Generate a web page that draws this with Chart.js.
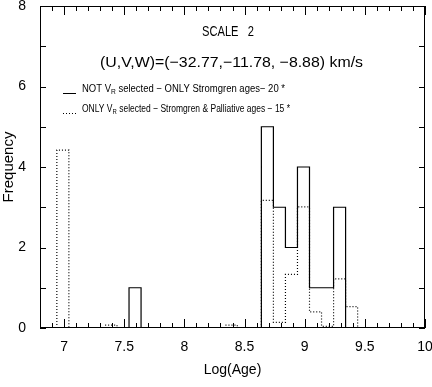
<!DOCTYPE html>
<html>
<head>
<meta charset="utf-8">
<script src="https://cdn.jsdelivr.net/npm/chart.js@4"></script>
<style>
  html, body { margin: 0; padding: 0; background: #fff; }
  #wrap { width: 432px; height: 387px; }
</style>
</head>
<body>
<div id="wrap"><canvas id="ageChart" width="432" height="387"></canvas></div>
<script>
// Histogram data (bin centres, width 0.1 in Log(Age))
const binWidth = 0.1;
const solidBins = [7.59, 8.69, 8.79, 8.89, 8.99, 9.09, 9.19, 9.29];
const solidCounts = [1, 5, 3, 2, 4, 1, 1, 3];
const dottedBins = [6.99, 7.39, 8.39, 8.69, 8.79, 8.89, 8.99, 9.09, 9.19, 9.29, 9.39];
const dottedCounts = [4.42, 0.07, 0.07, 3.17, 0.14, 1.33, 3.01, 0.40, 0.04, 1.22, 0.53];

const xTickLabels = [7, 7.5, 8, 8.5, 9, 9.5, 10];
const yTickLabels = [0, 2, 4, 6, 8];

const titleLine1 = 'SCALE   2';
const titleLine2 = '(U,V,W)=(\u221232.77,\u221211.78, \u22128.88) km/s';
const legendSolid = ['NOT V', 'R', ' selected \u2212 ONLY Stromgren ages\u2212 20 *'];
const legendDotted = ['ONLY V', 'R', ' selected \u2212 Stromgren & Palliative ages \u2212 15 *'];

const FONT = '"Liberation Sans", Arial, sans-serif';

/**
 * Turns bin centres and heights into outline points for a stepped line.
 */
function histogramOutline(centres, counts) {
    const pts = [];
    let prevRight = null;
    for (let i = 0; i < centres.length; i++) {
        const left = +(centres[i] - binWidth / 2).toFixed(3);
        const right = +(centres[i] + binWidth / 2).toFixed(3);
        if (prevRight !== null && Math.abs(left - prevRight) > 1e-6) {
            pts.push({ x: prevRight, y: 0 });
            pts.push({ x: (prevRight + left) / 2, y: null });
            prevRight = null;
        }
        if (prevRight === null) pts.push({ x: left, y: 0 });
        pts.push({ x: left, y: counts[i] });
        prevRight = right;
    }
    pts.push({ x: prevRight, y: 0 });
    return pts;
}

/**
 * Draws text squeezed/stretched horizontally to a given width (left edge x0).
 */
function fitText(ctx, text, x0, yMid, width) {
    const w = ctx.measureText(text).width;
    ctx.save();
    ctx.translate(x0, yMid);
    ctx.scale(width / w, 1);
    ctx.textAlign = 'left';
    ctx.fillText(text, 0, 0);
    ctx.restore();
}

function drawLegendRow(ctx, parts, x0, yMid, width) {
    const big = '10px ' + FONT, small = '7px ' + FONT;
    ctx.font = big;
    const w0 = ctx.measureText(parts[0]).width;
    const w2 = ctx.measureText(parts[2]).width;
    ctx.font = small;
    const w1 = ctx.measureText(parts[1]).width;
    const k = width / (w0 + w1 + w2);
    ctx.save();
    ctx.translate(x0, yMid);
    ctx.scale(k, 1);
    ctx.textAlign = 'left';
    ctx.font = big;
    ctx.fillText(parts[0], 0, 0);
    ctx.font = small;
    ctx.fillText(parts[1], w0, 3);
    ctx.font = big;
    ctx.fillText(parts[2], w0 + w1, 0);
    ctx.restore();
}

// Frame, inward ticks and the in-plot annotations
const framePlugin = {
    id: 'frame',
    afterDraw(chart) {
        const { ctx, chartArea: a, scales: { x, y } } = chart;
        ctx.save();
        ctx.strokeStyle = '#000';
        ctx.lineWidth = 1;
        ctx.strokeRect(a.left + 0.5, a.top + 0.5, a.right - a.left - 1, a.bottom - a.top - 1);

        ctx.beginPath();
        for (let k = 68; k <= 100; k++) {
            const v = k / 10;
            const px = Math.round(x.getPixelForValue(v)) + 0.5;
            const len = (k % 5 === 0) ? 9 : 5;
            ctx.moveTo(px, a.bottom); ctx.lineTo(px, a.bottom - len);
            ctx.moveTo(px, a.top); ctx.lineTo(px, a.top + len);
        }
        for (let v = 0; v <= 8; v++) {
            const py = Math.round(y.getPixelForValue(v)) + 0.5;
            ctx.moveTo(a.left, py); ctx.lineTo(a.left + 6, py);
            ctx.moveTo(a.right, py); ctx.lineTo(a.right - 6, py);
        }
        ctx.stroke();

        ctx.fillStyle = '#000';
        ctx.textBaseline = 'middle';
        ctx.font = '15px ' + FONT;
        fitText(ctx, titleLine1, 202, 32, 52);
        fitText(ctx, titleLine2, 100, 63, 263);

        // legend
        drawLegendRow(ctx, legendSolid, 82, 89, 203);
        drawLegendRow(ctx, legendDotted, 82, 109, 208);
        ctx.beginPath();
        ctx.moveTo(63, 93.5); ctx.lineTo(76, 93.5);
        ctx.stroke();
        ctx.setLineDash([1, 2]);
        ctx.beginPath();
        ctx.moveTo(63, 113.5); ctx.lineTo(77, 113.5);
        ctx.stroke();
        ctx.restore();
    }
};

const chartConfig = {
    type: 'line',
    data: {
        datasets: [{
            label: 'NOT VR selected',
            data: histogramOutline(solidBins, solidCounts),
            borderColor: '#000',
            borderWidth: 1.2,
            stepped: true,
            pointRadius: 0,
            spanGaps: false
        }, {
            label: 'ONLY VR selected',
            data: histogramOutline(dottedBins, dottedCounts),
            borderColor: '#000',
            borderWidth: 1.2,
            borderDash: [1, 2],
            stepped: true,
            pointRadius: 0,
            spanGaps: false
        }]
    },
    options: {
        responsive: false,
        animation: false,
        layout: { padding: { top: 6, right: 7, left: 0, bottom: 0 } },
        scales: {
            x: {
                type: 'linear',
                min: 6.8,
                max: 10,
                grid: { display: false, drawTicks: false },
                border: { display: false },
                afterBuildTicks: (s) => { s.ticks = xTickLabels.map(v => ({ value: v })); },
                afterFit: (s) => { s.height = 59; s.paddingLeft = 0; s.paddingRight = 0; },
                ticks: {
                    color: '#000',
                    padding: 11,
                    maxRotation: 0,
                    autoSkip: false,
                    font: { family: FONT, size: 14 },
                    callback: (v) => String(v)
                },
                title: {
                    display: true,
                    text: 'Log(Age)',
                    color: '#000',
                    font: { family: FONT, size: 14 },
                    padding: { top: 0, bottom: 8 }
                }
            },
            y: {
                min: 0,
                max: 8,
                grid: { display: false, drawTicks: false },
                border: { display: false },
                afterBuildTicks: (s) => { s.ticks = yTickLabels.map(v => ({ value: v })); },
                afterFit: (s) => { s.width = 40; s.paddingTop = 0; s.paddingBottom = 0; },
                ticks: {
                    color: '#000',
                    padding: 14,
                    font: { family: FONT, size: 14 },
                    callback: (v) => String(v)
                },
                title: {
                    display: true,
                    text: 'Frequency',
                    color: '#000',
                    font: { family: FONT, size: 15 },
                    padding: { top: 0, bottom: 0 }
                }
            }
        },
        plugins: {
            legend: { display: false },
            tooltip: { enabled: false }
        }
    },
    plugins: [framePlugin]
};

new Chart(document.getElementById('ageChart'), chartConfig);
</script>
</body>
</html>
